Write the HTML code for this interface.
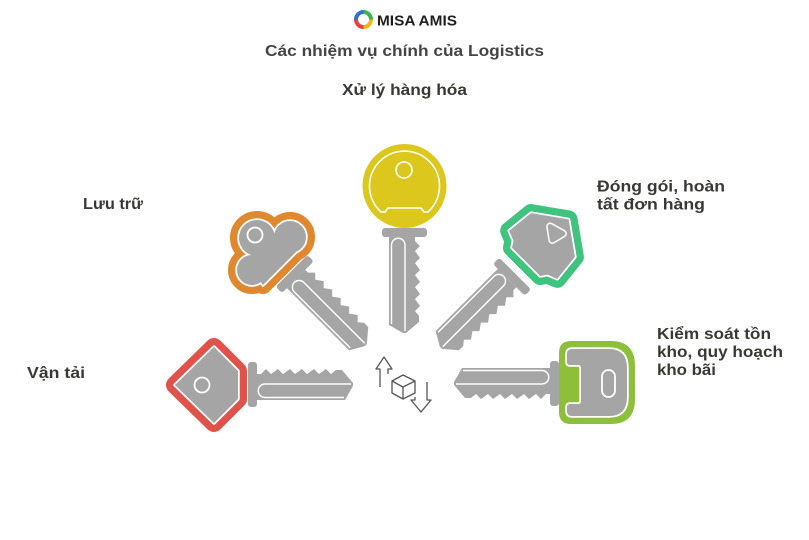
<!DOCTYPE html>
<html>
<head>
<meta charset="utf-8">
<style>
  html,body{margin:0;padding:0;background:#fff;}
  svg{display:block;}
  text{font-family:"Liberation Sans","Noto Sans CJK SC",sans-serif;font-weight:bold;}
</style>
</head>
<body>
<svg width="809" height="540" viewBox="0 0 809 540" xmlns="http://www.w3.org/2000/svg">
  <defs>
    <g id="blade">
      <rect x="-4" y="-23" width="9" height="45" rx="3" fill="#a5a5a5"/>
      <path d="M5,-11 L9,-11 L14,-16 L19,-11 L26,-16 L31,-11 L38,-16 L43,-11 L50,-16 L55,-11 L62,-16 L67,-11 L74,-16 L79,-11 L84,-15 L90,-15 L101,-2 L101,1 L93,15 L5,15 Z" fill="#a5a5a5"/>
      <path d="M99,-1 H13 A6.75,6.75 0 0 0 13,12.5 H92" fill="none" stroke="#fff" stroke-width="1.4"/>
    </g>
  </defs>

  <!-- Logo -->
  <g fill="none" stroke-width="4">
    <path d="M363.5,12 A7.5,7.5 0 0 1 371,19.5" stroke="#3bb54a"/>
    <path d="M371,19.5 A7.5,7.5 0 0 1 363.5,27" stroke="#f4b41a"/>
    <path d="M363.5,27 A7.5,7.5 0 0 1 356,19.5" stroke="#e8413c"/>
    <path d="M356,19.5 A7.5,7.5 0 0 1 363.5,12" stroke="#2f6fd6"/>
  </g>
  <text x="377" y="25.5" font-size="15" fill="#1e1e1e" textLength="80" lengthAdjust="spacingAndGlyphs">MISA AMIS</text>

  <!-- Titles -->
  <text x="265" y="56" font-size="16" fill="#444" textLength="279" lengthAdjust="spacingAndGlyphs">Các nhiệm vụ chính của Logistics</text>
  <text x="342" y="95" font-size="15.5" fill="#3a3835" textLength="125" lengthAdjust="spacingAndGlyphs">Xử lý hàng hóa</text>

  <!-- Labels -->
  <text x="597" y="191.5" font-size="15.5" fill="#3a3835" textLength="128" lengthAdjust="spacingAndGlyphs">Đóng gói, hoàn</text>
  <text x="597" y="209.5" font-size="15.5" fill="#3a3835" textLength="108" lengthAdjust="spacingAndGlyphs">tất đơn hàng</text>
  <text x="657" y="339" font-size="15.5" fill="#3a3835" textLength="114" lengthAdjust="spacingAndGlyphs">Kiểm soát tồn</text>
  <text x="657" y="357" font-size="15.5" fill="#3a3835" textLength="126" lengthAdjust="spacingAndGlyphs">kho, quy hoạch</text>
  <text x="657" y="375" font-size="15.5" fill="#3a3835" textLength="59" lengthAdjust="spacingAndGlyphs">kho bãi</text>
  <text x="83" y="209" font-size="15.5" fill="#3a3835" textLength="60" lengthAdjust="spacingAndGlyphs">Lưu trữ</text>
  <text x="27" y="378" font-size="15.5" fill="#3a3835" textLength="58" lengthAdjust="spacingAndGlyphs">Vận tải</text>

  <!-- Red key head -->
  <path d="M214,347 L238,371 L238,399 L214,423 L175,385 Z" fill="#e0534a" stroke="#e0534a" stroke-width="18" stroke-linejoin="round"/>
  <path d="M214,347 L238,371 L238,399 L214,423 L175,385 Z" fill="#fff" stroke="#fff" stroke-width="3.5" stroke-linejoin="round"/>
  <path d="M214,347 L238,371 L238,399 L214,423 L175,385 Z" fill="#a5a5a5"/>
  <circle cx="202" cy="385" r="7.5" fill="#a5a5a5" stroke="#fff" stroke-width="1.8"/>

  <!-- Orange key head -->
  <g fill="#e0882f" stroke="#e0882f" stroke-width="18" stroke-linejoin="round">
    <circle cx="257" cy="238" r="18"/>
    <circle cx="290" cy="237" r="16"/>
    <circle cx="252" cy="270" r="15"/>
    <polygon points="257,238 290,237 305,243 263,285 252,270"/>
  </g>
  <g fill="#fff" stroke="#fff" stroke-width="3.5" stroke-linejoin="round">
    <circle cx="257" cy="238" r="18"/>
    <circle cx="290" cy="237" r="16"/>
    <circle cx="252" cy="270" r="15"/>
    <polygon points="257,238 290,237 305,243 263,285 252,270"/>
  </g>
  <g fill="#a5a5a5">
    <circle cx="257" cy="238" r="18"/>
    <circle cx="290" cy="237" r="16"/>
    <circle cx="252" cy="270" r="15"/>
    <polygon points="257,238 290,237 305,243 263,285 252,270"/>
  </g>
  <circle cx="255" cy="235" r="7.5" fill="#a5a5a5" stroke="#fff" stroke-width="1.8"/>

  <!-- Yellow key head -->
  <circle cx="404.5" cy="186" r="42" fill="#dcc81d"/>
  <path d="M381,212 A35,35 0 1 1 428,212 L424,212 L421,208 L388,208 L385,212 Z" fill="none" stroke="#fff" stroke-width="1.6" stroke-linejoin="round"/>
  <circle cx="404" cy="170" r="8" fill="none" stroke="#fff" stroke-width="1.6"/>

  <!-- Green key head -->
  <g transform="translate(512,276) rotate(135)">
    <path d="M-80,0 L-58,-31 L-30,-34 L-26,-24 L-20,-20 L-20,20 L-26,24 L-30,34 L-58,31 Z" fill="#3fc37e" stroke="#3fc37e" stroke-width="18" stroke-linejoin="round"/>
    <path d="M-80,0 L-58,-31 L-30,-34 L-26,-24 L-20,-20 L-20,20 L-26,24 L-30,34 L-58,31 Z" fill="#fff" stroke="#fff" stroke-width="3.5" stroke-linejoin="round"/>
    <path d="M-80,0 L-58,-31 L-30,-34 L-26,-24 L-20,-20 L-20,20 L-26,24 L-30,34 L-58,31 Z" fill="#a5a5a5"/>
    <path d="M-66,-6 L-54,-3 L-62,8 Z" fill="#fff" stroke="#fff" stroke-width="8" stroke-linejoin="round"/>
    <path d="M-66,-6 L-54,-3 L-62,8 Z" fill="#a5a5a5" stroke="#a5a5a5" stroke-width="5" stroke-linejoin="round"/>
  </g>

  <!-- Lime key head -->
  <path d="M571,341 H611 Q635,341 635,366 V399 Q635,424 611,424 H571 Q559,424 559,412 V353 Q559,341 571,341 Z" fill="#8dbf3b"/>
  <path d="M572,349 H609 Q627,349 627,368 V397 Q627,416 609,416 H572 Q567,416 567,411 V407 Q567,404 570,404 H578 Q581,404 581,401 V368 Q581,365 578,365 H570 Q567,365 567,362 V354 Q567,349 572,349 Z" fill="#fff" stroke="#fff" stroke-width="3.5" stroke-linejoin="round"/>
  <path d="M572,349 H609 Q627,349 627,368 V397 Q627,416 609,416 H572 Q567,416 567,411 V407 Q567,404 570,404 H578 Q581,404 581,401 V368 Q581,365 578,365 H570 Q567,365 567,362 V354 Q567,349 572,349 Z" fill="#a5a5a5"/>
  <rect x="602" y="370" width="13" height="27" rx="6.5" fill="#a5a5a5" stroke="#fff" stroke-width="1.8"/>

  <!-- Blades -->
  <use href="#blade" transform="translate(252,385)"/>
  <use href="#blade" transform="translate(294,274) rotate(45)"/>
  <use href="#blade" transform="translate(404,232) rotate(90)"/>
  <use href="#blade" transform="translate(512,276) rotate(135)"/>
  <use href="#blade" transform="translate(555,383) rotate(180)"/>

  <!-- Center icon -->
  <g fill="none" stroke="#555" stroke-width="1.3" stroke-linejoin="round">
    <path d="M380,387 V369 H376 L384,357 L392,369 H388 V374"/>
    <path d="M427,382 V400 H431 L421,412 L411,400 H415 V397"/>
    <path d="M392,381 L403,375 L415,381 L415,393 L403,399 L392,393 Z" fill="#fff"/>
    <path d="M392,381 L403,387 L415,381 M403,387 V399"/>
  </g>
</svg>
</body>
</html>
